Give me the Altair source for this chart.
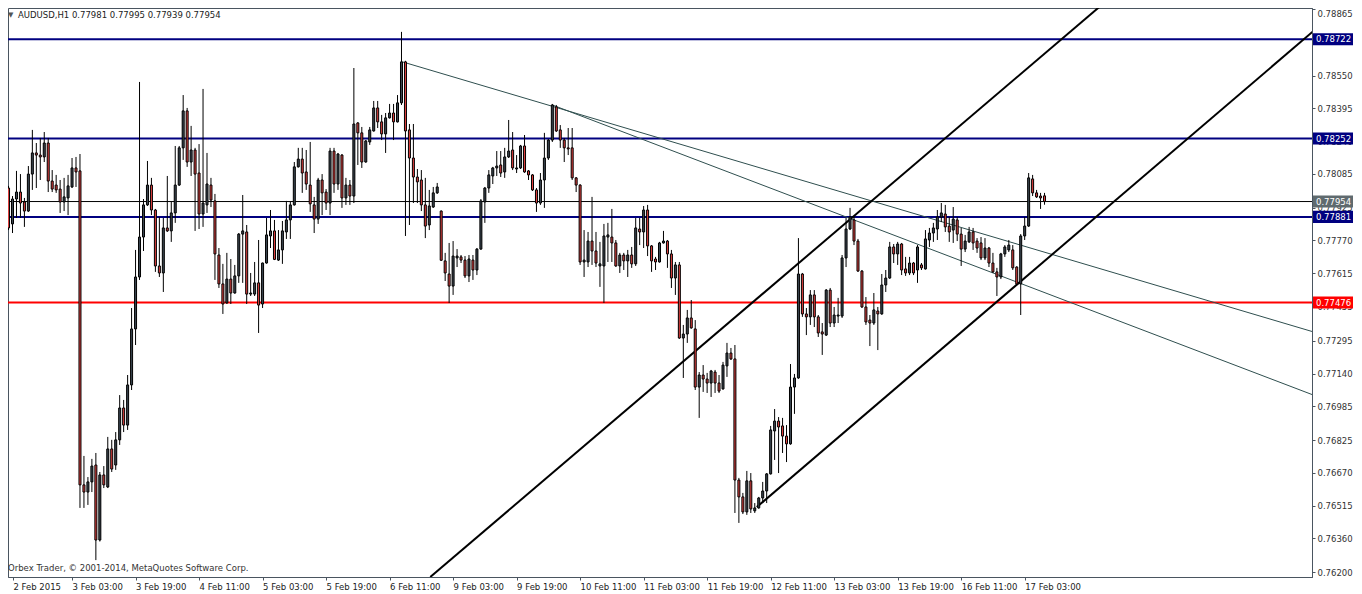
import json
import altair as alt
import pandas as pd

symbol = "AUDUSD,H1"
watermark = "Orbex Trader, © 2001-2014, MetaQuotes Software Corp."

date_labels = ["2 Feb 2015", "3 Feb 03:00", "3 Feb 19:00", "4 Feb 11:00", "5 Feb 03:00",
               "5 Feb 19:00", "6 Feb 11:00", "9 Feb 03:00", "9 Feb 19:00", "10 Feb 11:00",
               "11 Feb 03:00", "11 Feb 19:00", "12 Feb 11:00", "13 Feb 03:00", "13 Feb 19:00",
               "16 Feb 11:00", "17 Feb 03:00"]

price_ticks = [0.78865, 0.78710, 0.78550, 0.78395, 0.78240, 0.78085, 0.77925, 0.77770, 0.77615,
               0.77455, 0.77295, 0.77140, 0.76985, 0.76825, 0.76670, 0.76515, 0.76360, 0.76200]

# hourly OHLC, in points (1e-5)
opens = [78018,77848,77966,77999,77952,77909,78084,78184,78174,78165,78231,78051,78032,78013,77952,77971,
         78023,78113,78099,76613,76579,76627,76707,76352,76660,76603,76783,76707,76826,76977,76896,77086,
         77351,77597,77786,77938,78032,77914,77649,77616,77829,77815,77900,78032,78208,78383,78141,78198,
         78089,77895,77938,78032,77957,77701,77564,77474,77587,77521,77602,77800,77810,77516,77516,77569,
         77469,77663,77791,77815,77677,77725,77810,77867,77938,78118,78155,78094,78032,77938,77871,78056,
         77999,77947,78193,78037,78174,77971,78032,77980,78326,78279,78141,78236,78288,78397,78331,78274,
         78350,78373,78331,78421,78615,78293,78160,78070,78056,77938,77843,77928,77995,77909,77673,77611,
         77554,77687,77692,77677,77602,77677,77630,77729,77952,78018,78075,78113,78127,78094,78165,78198,
         78108,78113,78217,78099,78080,78009,77947,78056,78160,78245,78402,78293,78245,78208,78208,78066,
         78032,77668,77668,77767,77720,77649,77649,77786,77786,77758,77649,77701,77673,77701,77659,77824,
         77810,77914,77744,77682,77668,77758,77767,77706,77592,77654,77308,77327,77403,77351,77076,77133,
         77114,77095,77147,77095,77067,77176,77237,77209,76636,76556,76485,76632,76490,76504,76551,76584,
         76665,76868,76915,76892,76844,76807,77076,77119,77611,77422,77408,77512,77408,77337,77322,77535,
         77379,77412,77412,77687,77824,77867,77767,77625,77455,77393,77379,77436,77422,77559,77592,77739,
         77706,77753,77635,77616,77663,77630,77654,77635,77772,77805,77824,77881,77895,77838,77819,77867,
         77800,77729,77763,77810,77767,77758,77687,77734,77663,77621,77597,77706,77725,77725,77644,77564,
         77791,77838,78061,77995,77980,77981]
highs = [78028,77980,78099,78084,77971,78122,78293,78231,78255,78283,78255,78103,78080,78056,78066,78080,
         78160,78165,78179,76750,76650,76736,76764,76674,76702,76840,76826,76863,77038,77015,77133,77450,
         77725,78520,77966,78146,78066,77919,77881,77876,78075,77952,78217,78217,78458,78397,78312,78208,
         78226,78487,78184,78066,77990,77734,77659,77711,77682,77654,77805,77985,77843,77616,77668,77772,
         77665,77876,77914,77867,77819,77862,77957,77952,78141,78208,78208,78198,78236,77976,78066,78084,
         78013,78208,78208,78184,78179,78066,78056,78586,78330,78307,78245,78307,78430,78430,78364,78373,
         78416,78416,78458,78757,78620,78321,78321,78108,78103,78066,78009,78023,78042,77912,77711,77758,
         77767,77729,77701,77696,77701,77701,77734,77966,78023,78103,78118,78193,78193,78208,78340,78283,
         78174,78222,78269,78103,78084,78018,78089,78279,78250,78416,78411,78316,78255,78302,78302,78070,
         78036,77819,77810,77976,77810,77763,77848,77853,77919,77772,77711,77711,77725,77739,77876,77876,
         77933,77938,77748,77692,77763,77815,77772,77725,77668,77668,77370,77441,77488,77393,77147,77180,
         77143,77157,77157,77133,77195,77285,77261,77275,76646,76575,76679,76669,76527,76556,76627,76669,
         76892,76972,76934,76930,76896,77185,77138,77781,77616,77450,77535,77535,77417,77379,77540,77545,
         77455,77498,77701,77876,77924,77881,77777,77630,77502,77417,77521,77455,77611,77630,77763,77753,
         77763,77758,77692,77692,77668,77748,77663,77819,77829,77853,77914,77947,77938,77881,77928,77881,
         77829,77796,77834,77829,77781,77786,77781,77739,77711,77640,77711,77748,77772,77748,77648,77800,
         77881,78089,78080,78009,77995,77995]
lows = [77819,77805,77876,77876,77834,77905,78009,78018,78056,78141,77999,77999,77995,77900,77909,77890,
        78018,78023,76504,76504,76518,76579,76257,76345,76598,76598,76674,76684,76802,76863,76873,77062,
        77275,77583,77720,77933,77890,77621,77597,77526,77810,77763,77853,78028,78151,78118,78075,77815,
        77824,77834,77900,77928,77583,77545,77422,77470,77469,77518,77569,77569,77469,77507,77507,77332,
        77450,77660,77734,77677,77673,77659,77777,77777,77935,78115,77995,78009,77905,77805,77848,77890,
        77914,77890,77995,78009,77924,77938,77938,77947,78127,78113,78138,78222,78285,78302,78245,78184,
        78347,78245,78328,78411,77791,77843,77947,77947,77909,77781,77819,77924,77990,77673,77578,77474,
        77512,77644,77663,77592,77573,77583,77606,77726,77853,77995,78037,78075,78070,78066,78160,78103,
        78089,78108,78090,78056,78004,77905,77938,77924,78151,78236,78283,78208,78141,78174,78056,77999,
        77654,77597,77644,77654,77644,77550,77474,77668,77668,77645,77616,77630,77597,77640,77649,77748,
        77734,77696,77621,77630,77665,77755,77640,77545,77512,77304,77119,77285,77352,77062,76930,77053,
        77048,77029,77048,77048,77064,77124,77204,76480,76433,76475,76471,76480,76480,76500,76527,76527,
        76662,76731,76669,76764,76721,76803,76949,77115,77408,77322,77370,77360,77313,77228,77318,77360,
        77360,77379,77403,77644,77819,77748,77621,77450,77370,77270,77370,77251,77418,77526,77588,77663,
        77654,77606,77602,77606,77606,77569,77630,77632,77739,77763,77772,77857,77810,77763,77758,77767,
        77649,77715,77758,77725,77711,77677,77677,77644,77616,77507,77587,77692,77715,77630,77559,77417,
        77772,77834,77980,77971,77919,77939]
closes = [77829,77966,77999,77947,77909,78084,78184,78174,78165,78231,78051,78013,78009,77952,77976,78028,
          78113,78094,76613,76579,76627,76702,76352,76660,76613,76783,76688,76826,76977,76896,77086,77351,
          77597,77786,77938,78032,77914,77649,77616,77829,77815,77900,78032,78208,78383,78141,78198,78084,
          77895,77947,78037,77961,77706,77564,77469,77587,77521,77602,77800,77815,77516,77521,77569,77464,
          77663,77796,77815,77680,77725,77815,77867,77938,78118,78155,78089,78037,77943,77871,78056,77995,
          77947,78193,78037,78179,77971,78032,77980,78321,78279,78141,78241,78293,78397,78331,78274,78350,
          78373,78331,78421,78615,78288,78160,78070,78047,77938,77838,77933,77995,78023,77676,77616,77554,
          77696,77696,77677,77602,77682,77630,77729,77957,78018,78080,78113,78122,78089,78165,78193,78113,
          78113,78217,78094,78080,78009,77947,78056,78160,78245,78411,78288,78245,78208,78203,78066,78032,
          77668,77677,77767,77720,77663,77659,77791,77796,77758,77649,77701,77673,77701,77659,77829,77810,
          77914,77744,77673,77668,77758,77767,77706,77592,77654,77308,77327,77403,77356,77076,77133,77114,
          77095,77152,77095,77057,77180,77237,77209,76636,76556,76485,76632,76499,76504,76551,76584,76665,
          76873,76915,76887,76844,76807,77076,77119,77611,77422,77408,77512,77408,77332,77327,77535,77379,
          77417,77417,77687,77824,77881,77767,77625,77455,77384,77379,77441,77422,77559,77592,77739,77706,
          77753,77630,77616,77663,77616,77739,77640,77777,77805,77829,77881,77900,77834,77810,77871,77800,
          77729,77767,77810,77758,77734,77687,77734,77663,77621,77597,77706,77739,77748,77640,77564,77791,
          77838,78066,77995,77976,77971,77954]

# horizontal levels
resist_levels = [0.78722, 0.78252, 0.77881]
support_level = 0.77476

# trend lines: (bar index, price) anchors
tl_ids = ["thin1", "thin1", "thin2", "thin2", "chanA", "chanA", "chanB", "chanB"]
tl_bars = [99.25, 328.75, 137.0, 328.75, 106.25, 276.0, 188.5, 328.75]
tl_prices = [0.78615, 0.77337, 0.78411, 0.77038, 0.76177, 0.78894, 0.76508, 0.78761]
tl_colors = ["#2F4F4F", "#2F4F4F", "#2F4F4F", "#2F4F4F", "black", "black", "black", "black"]
tl_widths = [1, 1, 1, 1, 2, 2, 2, 2]

NAVY = "#000080"
BULL = "#3b4650"
BEAR = "#e2403f"
FONT = "DejaVu Sans"
W, H = 1304, 569

n = len(opens)
df = pd.DataFrame({
    "i": list(range(n)),
    "o": [v / 1e5 for v in opens],
    "h": [v / 1e5 for v in highs],
    "l": [v / 1e5 for v in lows],
    "c": [v / 1e5 for v in closes],
})
df["hi"] = df[["o", "c"]].max(axis=1)
df["lo"] = df[["o", "c"]].min(axis=1)
df["fill"] = [BULL if c > o else BEAR for o, c in zip(df["o"], df["c"])]

last_close = closes[-1] / 1e5
levels = pd.DataFrame({
    "p": resist_levels + [support_level, last_close],
    "color": [NAVY, NAVY, NAVY, "#ff0000", "black"],
    "w": [2, 2, 2, 2, 1],
})

boxes = pd.DataFrame({
    "p": resist_levels + [support_level, last_close],
    "color": [NAVY, NAVY, NAVY, "#ff0000", "#5f6a6e"],
})
boxes["top"] = boxes["p"] + 0.00029
boxes["bot"] = boxes["p"] - 0.00028
boxes["label"] = [f"{v:.5f}" for v in boxes["p"]]

tl = pd.DataFrame({"id": tl_ids, "i": tl_bars, "p": tl_prices, "color": tl_colors, "w": tl_widths})

x_scale = alt.Scale(domain=[1.125, 1.125 + W / 4], nice=False, zero=False)
y_scale = alt.Scale(domain=[0.76177, 0.78870], nice=False, zero=False)

label_arr = json.dumps(date_labels)
x_axis = alt.Axis(values=[1.125] + [16 * k for k in range(1, 17)],
                  labelExpr=f"{label_arr}[round(datum.value/16)]",
                  labelAlign="left", labelBaseline="top", labelPadding=2, tickSize=3,
                  labelOverlap=False, labelFlush=False, grid=False, title=None,
                  labelFont=FONT, labelFontSize=8.5, labelColor="#222",
                  domainColor="#4a5560", tickColor="#4a5560")
y_axis = alt.Axis(orient="right", values=price_ticks, format=".5f", tickSize=3,
                  labelPadding=2, labelOverlap=False, labelFlush=False, grid=False, title=None,
                  labelOffset=alt.condition("datum.value > 0.7886", alt.value(4), alt.value(0)),
                  labelFont=FONT, labelFontSize=8.5, labelColor="#333",
                  domainColor="#4a5560", tickColor="#4a5560")

X = alt.X("i:Q", scale=x_scale, axis=x_axis)

lvl = alt.Chart(levels).mark_rule(clip=True).encode(
    y=alt.Y("p:Q", scale=y_scale, axis=y_axis),
    color=alt.Color("color:N", scale=None),
    strokeWidth=alt.StrokeWidth("w:Q", scale=None),
)

trend = alt.Chart(tl).mark_line(clip=True).encode(
    x=X,
    y=alt.Y("p:Q", scale=y_scale, axis=y_axis),
    detail="id:N",
    color=alt.Color("color:N", scale=None),
    strokeWidth=alt.StrokeWidth("w:Q", scale=None),
)

wicks = alt.Chart(df).mark_rule(color="black", strokeWidth=1, clip=True).encode(
    x=X,
    y=alt.Y("l:Q", scale=y_scale, axis=y_axis),
    y2="h:Q",
)

bodies = alt.Chart(df).mark_bar(width=2, stroke="black", strokeWidth=1, clip=True).encode(
    x=X,
    y=alt.Y("hi:Q", scale=y_scale, axis=y_axis),
    y2="lo:Q",
    fill=alt.Fill("fill:N", scale=None),
)

box = alt.Chart(boxes).mark_rect(clip=False).encode(
    x=alt.value(W + 1), x2=alt.value(W + 41),
    y=alt.Y("top:Q", scale=y_scale, axis=y_axis),
    y2="bot:Q",
    color=alt.Color("color:N", scale=None),
)
box_txt = alt.Chart(boxes).mark_text(align="left", baseline="middle", color="white",
                                     font=FONT, fontSize=8.5).encode(
    x=alt.value(W + 4),
    y=alt.Y("p:Q", scale=y_scale, axis=y_axis),
    text="label:N",
)

header_text = f"{symbol}  {opens[-1]/1e5:.5f} {highs[-1]/1e5:.5f} {lows[-1]/1e5:.5f} {closes[-1]/1e5:.5f}"
header = alt.Chart(pd.DataFrame({"t": [header_text]})).mark_text(
    align="left", baseline="middle", font=FONT, fontSize=8.5, color="#222").encode(
    x=alt.value(10), y=alt.value(7), text="t:N")
tri = alt.Chart(pd.DataFrame({"t": ["▼"]})).mark_text(
    align="left", baseline="middle", font=FONT, fontSize=7, color="#555").encode(
    x=alt.value(0), y=alt.value(7), text="t:N")
wm = alt.Chart(pd.DataFrame({"t": [watermark]})).mark_text(
    align="left", baseline="middle", font=FONT, fontSize=8.5, color="#333").encode(
    x=alt.value(0), y=alt.value(H - 9), text="t:N")

chart = alt.layer(lvl, trend, wicks, bodies, box, box_txt, header, tri, wm).properties(
    width=W, height=H,
    padding={"left": 0, "top": 0, "right": 0, "bottom": 0},
    background="white",
).configure_view(stroke="#4a5560", strokeWidth=1)

chart.save("out.html", embed_options={"renderer": "svg", "actions": False})
